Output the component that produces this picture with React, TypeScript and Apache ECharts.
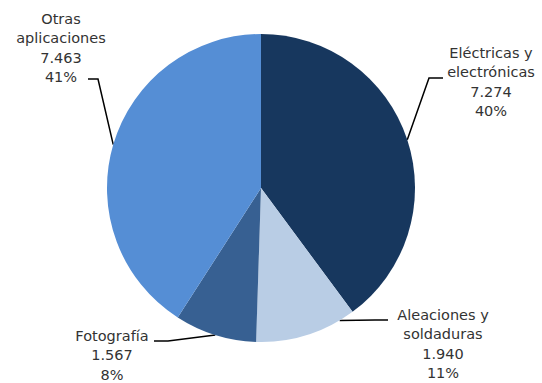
import React, { useEffect, useRef } from "react";
import * as echarts from "echarts";

const categories = ["Eléctricas y\nelectrónicas", "Aleaciones y\nsoldaduras", "Fotografía", "Otras\naplicaciones"];
const values = [7274, 1940, 1567, 7463];
const percentLabels = ["40%", "11%", "8%", "41%"];
const colors = ["#17375E", "#B9CDE5", "#376092", "#558ED5"];

// layout only: label block centres, leader-line label-side end + elbow, anchor fraction within slice
const labelPos = [
  [491, 82],
  [443, 344],
  [112, 355],
  [61, 48],
];
const lineEnds = [
  [443, 78, 429, 78],
  [388, 320, 375, 320],
  [154, 341, 168, 341],
  [88, 79, 98, 79],
];
const anchorFrac = [0.5, 0.15, 0.5, 0.5];

const CX = 261;
const CY = 188;
const R = 154;

const fmt = (v: number) => v.toString().replace(/\B(?=(\d{3})+(?!\d))/g, ".");

export default function App() {
  const ref = useRef<HTMLDivElement>(null);
  useEffect(() => {
    if (!ref.current) return;
    const chart = echarts.init(ref.current, null, { renderer: "svg" });
    const total = values.reduce((a, b) => a + b, 0);
    const anchors = values.map((v, i) => {
      const before = values.slice(0, i).reduce((a, b) => a + b, 0);
      const ang = ((before + v * anchorFrac[i]) / total) * Math.PI * 2;
      return [CX + R * Math.sin(ang), CY - R * Math.cos(ang)];
    });
    chart.setOption({
      animation: false,
      backgroundColor: "#ffffff",
      series: [
        {
          type: "pie",
          center: [CX, CY],
          radius: [0, R],
          startAngle: 90,
          clockwise: true,
          avoidLabelOverlap: false,
          data: categories.map((c, i) => ({
            name: c,
            value: values[i],
            itemStyle: { color: colors[i] },
          })),
          label: {
            show: true,
            position: "outside",
            fontFamily: "DejaVu Sans",
            fontSize: 14.5,
            lineHeight: 19.5,
            color: "#333333",
            align: "center",
            formatter: (p: any) => `${p.name}\n${fmt(p.value)}\n${percentLabels[p.dataIndex]}`,
          },
          labelLine: {
            show: true,
            length: 10,
            length2: 10,
            lineStyle: { color: "#000000", width: 1.5 },
          },
          labelLayout: (params: any) => {
            const i = params.dataIndex;
            const e = lineEnds[i];
            return {
              x: labelPos[i][0],
              y: labelPos[i][1],
              align: "center",
              verticalAlign: "middle",
              labelLinePoints: [anchors[i], [e[2], e[3]], [e[0], e[1]]],
            };
          },
        },
      ],
    });
    return () => chart.dispose();
  }, []);
  return <div ref={ref} style={{ width: 542, height: 383, position: "absolute", left: 0, top: 0 }} />;
}
